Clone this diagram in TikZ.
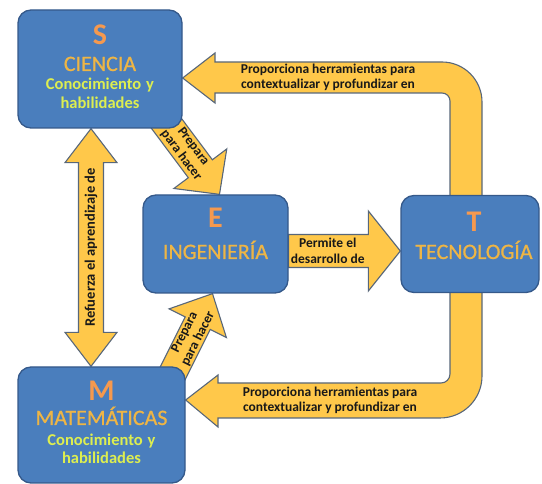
\documentclass[tikz,border=0pt]{standalone}
\usepackage{fontspec}
\setmainfont{Carlito}
\newfontfamily\gruesa[FakeBold=0.8]{Carlito}
\usetikzlibrary{calc,backgrounds}

\definecolor{cajafondo}{HTML}{4A7EBD}
\definecolor{cajaborde}{HTML}{35598A}
\definecolor{flechafondo}{HTML}{FFC84A}
\definecolor{flechaborde}{HTML}{58677A}
\definecolor{letrana}{HTML}{F6994E}
\definecolor{nombream}{HTML}{EEB545}
\definecolor{descverde}{HTML}{DDEE50}

% block arrow: start, tip, shaft half width, head half width, head length
\newcommand{\flecha}[5]{%
  \coordinate (fb) at ($(#2)!#5!(#1)$);
  \draw[flecha] ($(#1)!#3!90:(#2)$) -- ($(fb)!#3!90:(#2)$) -- ($(fb)!#4!90:(#2)$)
    -- (#2) -- ($(fb)!#4!-90:(#2)$) -- ($(fb)!#3!-90:(#2)$) -- ($(#1)!#3!-90:(#2)$) -- cycle;
}
% same with a head at both ends
\newcommand{\flechadoble}[5]{%
  \coordinate (fa) at ($(#1)!#5!(#2)$);
  \coordinate (fb) at ($(#2)!#5!(#1)$);
  \draw[flecha] (#1) -- ($(fa)!#4!90:(#2)$) -- ($(fa)!#3!90:(#2)$) -- ($(fb)!#3!90:(#2)$)
    -- ($(fb)!#4!90:(#2)$) -- (#2) -- ($(fb)!#4!-90:(#2)$) -- ($(fb)!#3!-90:(#2)$)
    -- ($(fa)!#3!-90:(#2)$) -- ($(fa)!#4!-90:(#2)$) -- cycle;
}

\begin{document}
\begin{tikzpicture}[x=1pt,y=1pt,
  caja/.style={draw=cajaborde,line width=1.3pt,fill=cajafondo,rounded corners=13pt,inner sep=0pt},
  flecha/.style={draw=flechaborde,line width=1.1pt,fill=flechafondo,line join=miter},
  letra/.style={font=\bfseries\fontsize{30}{30}\selectfont,text=letrana,inner sep=0pt,anchor=base},
  nombre/.style={font=\gruesa\fontsize{22}{22}\selectfont,text=nombream,inner sep=0pt,anchor=base},
  desc/.style={font=\bfseries\fontsize{16.5}{16.5}\selectfont,text=descverde,inner sep=0pt,anchor=base},
  lbl/.style={font=\bfseries\fontsize{13.5}{15}\selectfont,text=black!90,align=center,inner sep=0pt}]
 \useasboundingbox (0,0) rectangle (542,-484);

 % the four boxes
 \foreach \n/\x/\y/\w/\h in {S/100/-69/164/118,E/215.5/-244/145/98,
   T/470/-244/138/97,M/101.5/-425/167/116} {
  \node[caja,minimum width=\w,minimum height=\h] (\n) at (\x,\y) {};
 }
 \foreach \n/\x/\ya/\yb/\l/\nom in {S/100/45/71/S/CIENCIA,E/215.5/228/259/E/INGENIERÍA,
   T/474/232/259/T/TECNOLOGÍA,M/101.5/401/425/M/MATEMÁTICAS} {
  \node[letra] (\n-l) at (\x,-\ya) {\l};
  \node[nombre] (\n-n) at (\x,-\yb) {\nom};
 }
 \foreach \n/\x/\ya/\yb in {S/100/90/109,M/101.5/446/464} {
  \node[desc] (\n-d1) at (\x,-\ya) {Conocimiento\hspace{5pt}y};
  \node[desc] (\n-d2) at (\x,-\yb) {habilidades};
 }

 % end points of the straight arrows
 \coordinate (sm1) at ([xshift=-9pt]S.south);
 \coordinate (sm2) at ([xshift=-10.5pt]M.north);
 \coordinate (se1) at ([xshift=-22pt,yshift=13pt]S.south east);
 \coordinate (se2) at ([xshift=4pt]E.north);
 \coordinate (me1) at ([xshift=-15pt,yshift=-11pt]M.north east);
 \coordinate (me2) at ([xshift=-3pt]E.south);
 \coordinate (et1) at ([yshift=-7pt]E.east);
 \coordinate (et2) at ([yshift=-7pt]T.west);

 \begin{scope}[on background layer]
  \flechadoble{sm1}{sm2}{12.5pt}{26pt}{34pt}
  \flecha{se1}{se2}{15pt}{33pt}{32pt}
  \flecha{me1}{me2}{14pt}{32pt}{33pt}
  \flecha{et1}{et2}{16.5pt}{40pt}{32pt}
  % T back to S and to M
  \draw[flecha] (450,-200) -- (450,-101) arc[start angle=0,end angle=90,radius=8]
    -- (215,-93) -- (215,-103) -- ([yshift=-9pt]S.east) -- (215,-53) -- (215,-62)
    -- (442,-62) arc[start angle=90,end angle=0,radius=40] -- (482,-200) -- cycle;
  \draw[flecha] (450,-285) -- (450,-374) arc[start angle=0,end angle=-90,radius=9]
    -- (218,-383) -- (218,-375) -- ([yshift=25pt]M.east) -- (218,-427) -- (218,-418)
    -- (440,-418) arc[start angle=-90,end angle=0,radius=42] -- (482,-285) -- cycle;
 \end{scope}

 % arrow texts
 \path (sm2) -- (sm1) node[lbl,sloped,midway,font=\bfseries\fontsize{14.5}{15}\selectfont] (l-sm) {Refuerza el aprendizaje de};
 \path (se1) -- (se2) node[lbl,sloped,pos=.45] (l-se) {Prepara\\para hacer};
 \path (me1) -- (me2) node[lbl,sloped,midway] (l-me) {Prepara\\para hacer};
 \path (et1) -- (et2) node[lbl,sloped,pos=.35,font=\bfseries\fontsize{13.5}{16}\selectfont] (l-et) {Permite el\\desarrollo de};
 \node[lbl] (l-sup) at (328,-77.5) {Proporciona herramientas para\\contextualizar y profundizar en};
 \node[lbl] (l-inf) at (330,-400.5) {Proporciona herramientas para\\contextualizar y profundizar en};
\end{tikzpicture}
\end{document}
